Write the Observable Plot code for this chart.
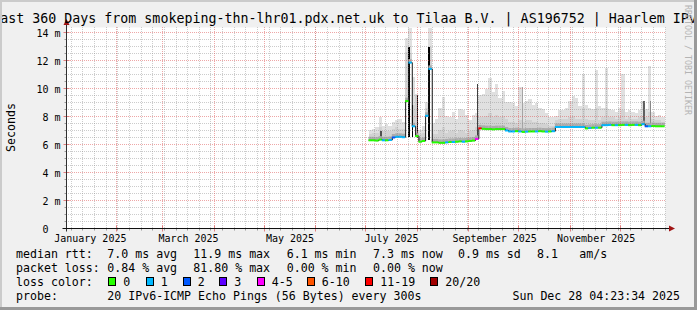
<!DOCTYPE html>
<html><head><meta charset="utf-8">
<script src="https://cdn.jsdelivr.net/npm/d3@7"></script>
<script src="https://cdn.jsdelivr.net/npm/@observablehq/plot@0.6"></script>
<style>
html,body{margin:0;padding:0;background:#f0f0f0;overflow:hidden;}
#chart svg{display:block;overflow:hidden;}
</style></head><body><div id="chart"></div>
<script>
// ---------- data ----------
const titleText = "Last 360 Days from smokeping-thn-lhr01.pdx.net.uk to Tilaa B.V. | AS196752 | Haarlem IPv6";
const yAxisLabel = "Seconds";
const watermark = "RRDTOOL / TOBI OETIKER";
const rangeStart = "2025-01-02T04:23:34Z";
const rangeEnd = "2025-12-28T04:23:34Z";
const firstBin = "2025-07-03";
const binDays = 2;

// median rtt per 2-day bin (ms)
const medianMs = [6.30,6.30,6.28,6.35,6.30,6.30,6.32,6.50,6.55,6.55,6.52,9.10,11.85,7.30,6.60,6.20,6.25,8.05,11.40,6.15,
  6.15,6.12,6.12,6.15,6.18,6.18,6.20,6.22,6.20,6.22,6.25,6.28,6.40,7.15,7.12,7.10,7.10,7.08,7.10,7.10,
  7.10,7.00,6.93,6.93,6.95,6.93,6.90,6.92,6.93,6.93,6.93,6.95,6.93,6.92,6.93,6.95,7.25,7.25,7.25,7.25,
  7.25,7.25,7.25,7.25,7.25,7.15,7.18,7.20,7.20,7.20,7.38,7.38,7.40,7.38,7.38,7.38,7.40,7.40,7.38,7.40,
  7.40,7.38,7.45,7.30,7.30,7.32,7.30,7.30,7.30];
// loss class per bin (index into lossLabels)
const lossIndex = [0,0,0,0,1,0,1,2,1,1,1,0,1,1,0,0,0,1,1,0,
  0,0,0,1,0,1,0,0,1,0,0,0,4,6,0,0,0,0,0,0,
  0,1,1,1,0,1,0,1,0,0,1,0,0,1,0,1,1,1,1,1,
  1,1,1,1,1,0,1,0,1,0,1,1,1,0,1,0,0,1,0,0,
  1,0,1,2,1,0,0,0,0];
// outer smoke top per bin (ms)
const smokeHigh = [7.0,7.1,7.2,7.9,7.3,7.4,7.3,7.6,7.7,7.8,7.6,13.6,14.3,10.8,9.6,7.0,7.3,9.0,14.3,7.5,
  7.8,8.6,9.35,8.0,7.9,8.3,7.8,8.5,8.4,8.1,7.7,8.1,8.2,9.5,9.6,9.9,10.7,9.7,10.3,9.3,
  9.8,9.0,9.0,8.9,8.7,10.1,8.9,9.1,9.2,8.8,8.9,8.6,8.5,8.2,7.9,7.9,8.0,8.4,8.4,8.6,
  9.1,9.4,9.3,8.7,11.0,8.8,8.6,8.5,11.25,8.7,8.6,11.4,8.5,8.4,8.3,8.6,11.0,8.3,8.4,8.3,
  8.2,8.4,9.1,8.5,11.6,8.3,8.0,8.1,7.9];
// inner smoke top per bin (ms)
const smokeMid = [6.7,6.75,6.8,7.2,6.9,6.9,6.9,7.1,7.2,7.1,7.1,12.6,12.5,8.8,9.5,6.7,6.8,8.6,12.9,6.7,
  6.7,7.0,7.2,6.8,6.9,7.0,6.8,7.0,6.9,6.8,6.9,7.0,7.2,7.9,7.9,8.0,8.2,7.9,8.1,7.9,
  8.0,7.8,7.6,7.6,7.5,7.7,7.6,7.7,7.7,7.6,7.6,7.5,7.5,7.4,7.3,7.3,7.7,7.8,7.8,7.8,
  7.9,8.0,7.8,7.8,8.6,7.8,7.7,7.7,8.6,7.7,7.9,8.6,7.9,7.9,7.8,7.9,8.4,7.8,7.9,7.8,
  7.8,7.9,8.0,7.9,8.3,7.8,7.7,7.7,7.6];
// dense smoke spikes
const spikeDates = ["2025-07-10","2025-07-27","2025-07-29","2025-08-01","2025-08-08","2025-09-06","2025-10-03","2025-12-15","2025-12-19"];
const spikeBase = [6.3,6.5,6.5,6.4,6.3,6.4,6.95,7.4,7.3];
const spikeTop = [6.9,12.9,8.75,9.5,12.9,10.25,10.1,9.1,9.1];
const spikeDensity = [0.75,1.0,1.0,0.95,1.0,0.8,0.45,0.7,0.55];

const yTicks = [2,4,6,8,10,12,14];
const xLabelDates = ["2025-01-16T12:00Z","2025-03-16T12:00Z","2025-05-16T12:00Z","2025-07-16T12:00Z","2025-09-16T12:00Z","2025-11-16T12:00Z"];

const lossLabels = ["0","1","2","3","4-5","6-10","11-19","20/20"];
const rowLabels = ["median rtt:","packet loss:","loss color:","probe:"];
const rttStats = ["7.0 ms avg","11.9 ms max","6.1 ms min","7.3 ms now","0.9 ms sd","8.1","am/s"];
const lossStats = ["0.84 % avg","81.80 % max","0.00 % min","0.00 % now"];
const probeText = "20 IPv6-ICMP Echo Pings (56 Bytes) every 300s";
const stampText = "Sun Dec 28 04:23:34 2025";

// ---------- styles ----------
const lossColors = ["#26ff00","#00b8ff","#0059ff","#5e00ff","#ff00ff","#ff5500","#ff0000","#a10000"];
const FONT = "DejaVu Sans Mono";

// ---------- build ----------
const t0 = new Date(rangeStart), t1 = new Date(rangeEnd);
const b0 = new Date(firstBin + "T00:00:00Z");
const bins = medianMs.map((m, i) => ({
  start: d3.utcDay.offset(b0, i * binDays),
  end: d3.utcDay.offset(b0, (i + 1) * binDays),
  med: m, hi: smokeHigh[i], mid: smokeMid[i], loss: lossIndex[i]
}));
const spikes = spikeDates.map((d, i) => {
  const s = new Date(d + "T00:00:00Z");
  return {start: s, end: d3.utcDay.offset(s, 1), base: spikeBase[i], top: spikeTop[i], dens: spikeDensity[i]};
});
const minorY = d3.range(0.5, 14.01, 0.5).filter(v => Math.abs(v % 2) > 0.01);
const minorX = d3.utcSunday.range(t0, t1);
const majorX = d3.utcMonth.range(t0, t1);

const plot = Plot.plot({
  width: 697, height: 310,
  marginLeft: 66, marginRight: 32, marginTop: 27, marginBottom: 82,
  style: {background: "#f0f0f0", fontFamily: FONT, fontSize: "10px", color: "#000"},
  x: {type: "utc", domain: [t0, t1], label: null},
  y: {domain: [0, 14.357], label: null},
  color: {type: "identity"},
  marks: [
    Plot.frame({fill: "white", stroke: "none"}),
    Plot.rect(bins, {x1: "start", x2: "end", y1: "med", y2: "hi", fill: "#e0e0e0", shapeRendering: "crispEdges"}),
    Plot.rect(bins, {x1: "start", x2: "end", y1: "med", y2: "mid", fill: "#d2d2d2", shapeRendering: "crispEdges"}),
    Plot.rect(spikes, {x1: "start", x2: "end", y1: "base", y2: "top", fill: d => d3.interpolateGreys(d.dens), shapeRendering: "crispEdges"}),
    Plot.ruleY(bins, {x1: "start", x2: "end", y: "med", stroke: "#ababab", strokeWidth: 3, dy: -2}),
    Plot.ruleY(minorY, {stroke: "#8f8f8f", strokeOpacity: 0.46, strokeDasharray: "1,1", shapeRendering: "crispEdges"}),
    Plot.ruleX(minorX, {stroke: "#8f8f8f", strokeOpacity: 0.46, strokeDasharray: "1,1", shapeRendering: "crispEdges"}),
    Plot.ruleY(yTicks, {stroke: "#de5050", strokeOpacity: 0.5, strokeDasharray: "1,1", shapeRendering: "crispEdges"}),
    Plot.ruleX(majorX, {stroke: "#de5050", strokeOpacity: 0.5, strokeDasharray: "1,1", shapeRendering: "crispEdges"}),
    Plot.line(bins, {x: "start", y: "med", curve: "step-after", stroke: "#1a1a1a", strokeWidth: 1}),
    Plot.ruleY(bins, {x1: "start", x2: "end", y: "med", stroke: d => lossColors[d.loss], strokeWidth: 2}),
    Plot.axisY({ticks: yTicks, tickSize: 0, tickPadding: 6, tickFormat: d => `${d} m`, label: null, dy: 1}),
    Plot.axisY({ticks: [0], tickSize: 0, tickPadding: 18, tickFormat: () => "0", label: null, dy: 1}),
    Plot.axisX({ticks: xLabelDates.map(d => new Date(d)), tickSize: 0, tickPadding: 6, tickFormat: d3.utcFormat("%B %Y"), label: null})
  ]
});
document.getElementById("chart").appendChild(plot);

// ---------- decorations (axes lines, ticks, title, legend, frame) ----------
const sx = plot.scale("x"), sy = plot.scale("y");
const svg = d3.select(plot);
const g = svg.append("g").attr("text-anchor", "start");
const ax = Math.round(sx.apply(t0)) + 0.5;
const ay = Math.round(sy.apply(0)) + 0.5;
const xr = Math.round(sx.apply(t1));
const yt = Math.round(sy.apply(14.357));

// outside ticks
minorX.forEach(d => { const x = Math.round(sx.apply(d)) + 0.5;
  g.append("line").attr("x1", x).attr("x2", x).attr("y1", ay).attr("y2", ay + 2).attr("stroke", "#9a9a9a"); });
majorX.forEach(d => { const x = Math.round(sx.apply(d)) + 0.5;
  g.append("line").attr("x1", x).attr("x2", x).attr("y1", ay - 3).attr("y2", ay + 3).attr("stroke", "#e08080"); });
minorY.forEach(v => { const y = Math.round(sy.apply(v)) + 0.5;
  g.append("line").attr("x1", ax - 2).attr("x2", ax).attr("y1", y).attr("y2", y).attr("stroke", "#9a9a9a"); });
yTicks.forEach(v => { const y = Math.round(sy.apply(v)) + 0.5;
  g.append("line").attr("x1", ax - 3).attr("x2", ax + 3).attr("y1", y).attr("y2", y).attr("stroke", "#e08080"); });

// axis lines + arrows
g.append("line").attr("x1", ax).attr("x2", ax).attr("y1", ay + 3).attr("y2", yt - 5).attr("stroke", "#303030");
g.append("line").attr("x1", ax - 4).attr("x2", xr + 6).attr("y1", ay).attr("y2", ay).attr("stroke", "#101010");
g.append("path").attr("d", `M${ax - 3},${yt - 2} L${ax + 3},${yt - 2} L${ax},${yt - 8} Z`).attr("fill", "#a01414");
g.append("path").attr("d", `M${xr + 4},${ay - 3} L${xr + 4},${ay + 3} L${xr + 10},${ay} Z`).attr("fill", "#a01414");

// title
g.append("text").attr("x", 348.5).attr("y", 23).attr("text-anchor", "middle")
  .attr("font-family", FONT).attr("font-size", "13.3px").attr("fill", "#000").text(titleText);
// y label
g.append("text").attr("transform", "translate(15,127.5) rotate(-90)").attr("text-anchor", "middle")
  .attr("font-family", FONT).attr("font-size", "11.6px").attr("fill", "#000").text(yAxisLabel);
// watermark
g.append("text").attr("transform", "translate(685,5) rotate(90)").attr("text-anchor", "start")
  .attr("font-family", FONT).attr("font-size", "8.3px").attr("fill", "#b4b4b4").text(watermark);

// legend
const LF = "11.6px";
const rowY = [258, 272, 286, 300];
const colX = [107.3, 193.3, 286.7, 373, 458, 537, 579.3];
const leg = g.append("g").attr("font-family", FONT).attr("font-size", LF).attr("fill", "#000").attr("text-anchor", "start");
rowLabels.forEach((t, i) => leg.append("text").attr("x", 16).attr("y", rowY[i]).text(t));
rttStats.forEach((t, i) => leg.append("text").attr("x", colX[i]).attr("y", rowY[0]).text(t));
lossStats.forEach((t, i) => leg.append("text").attr("x", colX[i]).attr("y", rowY[1]).text(t));
const sqX = [108.3, 145.7, 182.7, 219.3, 256.7, 306.7, 365.3, 430.3];
lossLabels.forEach((t, i) => {
  leg.append("rect").attr("x", Math.round(sqX[i]) + 0.5).attr("y", 277.5).attr("width", 7).attr("height", 8)
    .attr("fill", lossColors[i]).attr("stroke", "#000");
  leg.append("text").attr("x", sqX[i] + 15).attr("y", rowY[2]).text(t);
});
leg.append("text").attr("x", colX[0]).attr("y", rowY[3]).text(probeText);
leg.append("text").attr("x", 680).attr("y", rowY[3]).attr("text-anchor", "end").text(stampText);

// 3D border
g.append("rect").attr("x", 0).attr("y", 0).attr("width", 697).attr("height", 2).attr("fill", "#cbcbcb");
g.append("rect").attr("x", 0).attr("y", 0).attr("width", 2).attr("height", 310).attr("fill", "#cbcbcb");
g.append("rect").attr("x", 0).attr("y", 307).attr("width", 697).attr("height", 3).attr("fill", "#999999");
g.append("rect").attr("x", 694).attr("y", 0).attr("width", 3).attr("height", 310).attr("fill", "#999999");
</script>
</body></html>
